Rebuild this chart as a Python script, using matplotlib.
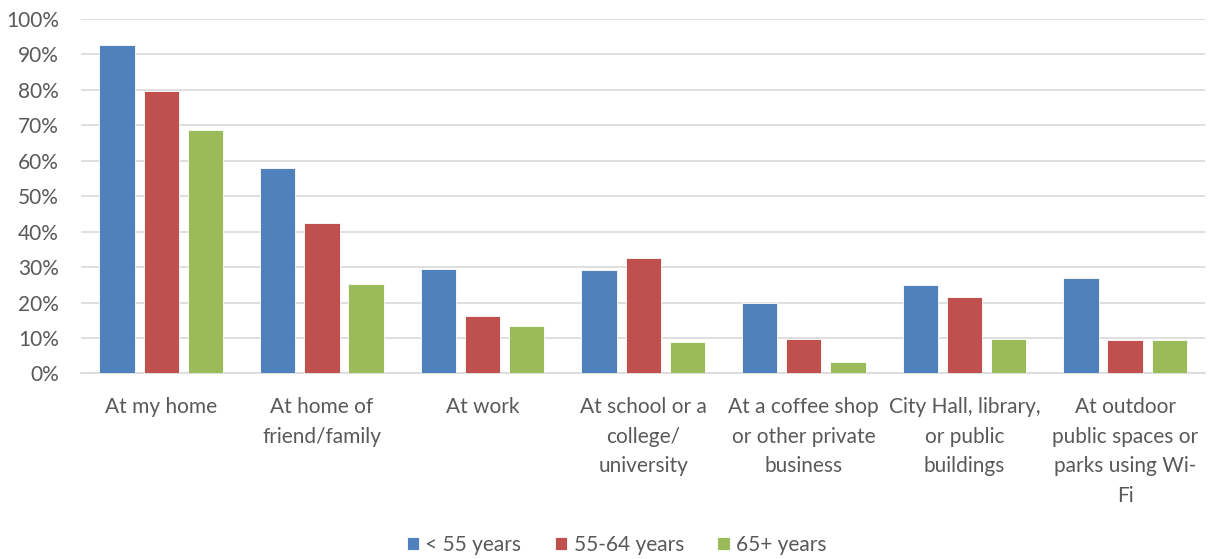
import matplotlib.pyplot as plt
import numpy as np
from matplotlib.ticker import PercentFormatter

# Categories and series
categories = ['At my home', 'At home of\nfriend/family', 'At work',
              'At school or a\ncollege/\nuniversity',
              'At a coffee shop\nor other private\nbusiness',
              'City Hall, library,\nor public\nbuildings',
              'At outdoor\npublic spaces or\nparks using Wi-\nFi']
series = ['< 55 years', '55-64 years', '65+ years']
under_55 = [92.6, 58.1, 29.4, 29.1, 19.8, 24.9, 26.9]
age_55_64 = [79.8, 42.4, 16.2, 32.5, 9.7, 21.5, 9.4]
over_65 = [68.8, 25.2, 13.3, 8.8, 3.1, 9.7, 9.4]
colors = ['#4F81BD', '#C0504D', '#9BBB59']

plt.rcParams['font.family'] = ['Lato', 'DejaVu Sans']
text_color = '#595959'

fig = plt.figure(figsize=(12.09, 5.59), dpi=100)
ax = fig.add_axes([0.067, 0.332, 0.93, 0.634])

x = np.arange(len(categories))
width = 0.22
offset = 0.275
for i, (vals, name) in enumerate(zip([under_55, age_55_64, over_65], series)):
    ax.bar(x + (i - 1) * offset, vals, width, color=colors[i], label=name,
           edgecolor='white', linewidth=0.6, zorder=3)

ax.set_xlim(-0.5, len(categories) - 0.5)
ax.set_ylim(0, 100)
ax.set_yticks(np.arange(0, 101, 10))
ax.yaxis.set_major_formatter(PercentFormatter(decimals=0))
ax.grid(axis='y', color='#D9D9D9', linewidth=1.2, zorder=0)
for s in ['top', 'right', 'left']:
    ax.spines[s].set_visible(False)
ax.spines['bottom'].set_color('#D9D9D9')
ax.spines['bottom'].set_linewidth(1.2)

ax.set_xticks(x)
ax.set_xticklabels(categories, linespacing=1.6)
ax.tick_params(axis='both', length=0, labelsize=15, colors=text_color)
ax.tick_params(axis='x', pad=17)
ax.tick_params(axis='y', pad=16)

leg = fig.legend(loc='center', bbox_to_anchor=(0.51, 0.025), ncol=3, frameon=False,
                 fontsize=15, handlelength=0.6, handleheight=0.6,
                 handletextpad=0.3, columnspacing=1.6)
for t in leg.get_texts():
    t.set_color(text_color)

fig.savefig('out.png', dpi=100)
